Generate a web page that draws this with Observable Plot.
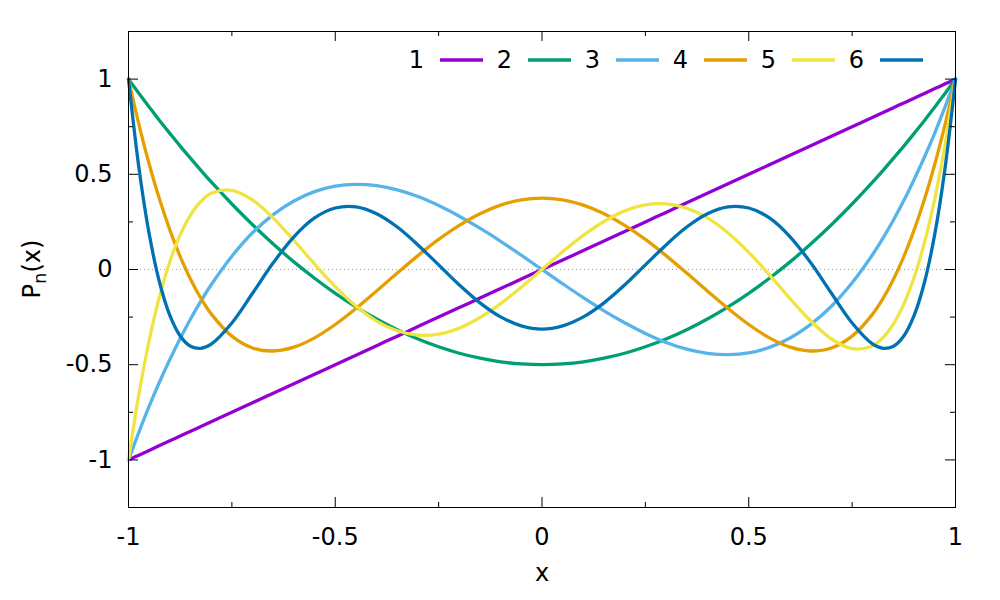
<!DOCTYPE html>
<html>
<head>
<meta charset="utf-8">
<script src="https://cdn.jsdelivr.net/npm/d3@7"></script>
<script src="https://cdn.jsdelivr.net/npm/@observablehq/plot@0.6"></script>
<style>
  html, body { margin: 0; padding: 0; background: #ffffff; }
</style>
</head>
<body>
<div id="chart"></div>
<script>
// ---- data ----
const xs = [-1,-0.975,-0.95,-0.925,-0.9,-0.875,-0.85,-0.825,-0.8,-0.75,-0.7,-0.65,-0.6,-0.55,-0.5,-0.45,-0.4,-0.35,-0.3,-0.25,-0.2,-0.15,-0.1,-0.05,0,0.05,0.1,0.15,0.2,0.25,0.3,0.35,0.4,0.45,0.5,0.55,0.6,0.65,0.7,0.75,0.8,0.825,0.85,0.875,0.9,0.925,0.95,0.975,1];
const P1 = [-1,-0.975,-0.95,-0.925,-0.9,-0.875,-0.85,-0.825,-0.8,-0.75,-0.7,-0.65,-0.6,-0.55,-0.5,-0.45,-0.4,-0.35,-0.3,-0.25,-0.2,-0.15,-0.1,-0.05,0,0.05,0.1,0.15,0.2,0.25,0.3,0.35,0.4,0.45,0.5,0.55,0.6,0.65,0.7,0.75,0.8,0.825,0.85,0.875,0.9,0.925,0.95,0.975,1];
const P2 = [1,0.926,0.854,0.783,0.715,0.648,0.584,0.521,0.46,0.344,0.235,0.134,0.04,-0.046,-0.125,-0.196,-0.26,-0.316,-0.365,-0.406,-0.44,-0.466,-0.485,-0.496,-0.5,-0.496,-0.485,-0.466,-0.44,-0.406,-0.365,-0.316,-0.26,-0.196,-0.125,-0.046,0.04,0.134,0.235,0.344,0.46,0.521,0.584,0.648,0.715,0.783,0.854,0.926,1];
const P3 = [-1,-0.855,-0.718,-0.591,-0.473,-0.362,-0.26,-0.166,-0.08,0.07,0.193,0.288,0.36,0.409,0.438,0.447,0.44,0.418,0.383,0.336,0.28,0.217,0.148,0.075,0,-0.075,-0.148,-0.217,-0.28,-0.336,-0.383,-0.418,-0.44,-0.447,-0.438,-0.409,-0.36,-0.288,-0.193,-0.07,0.08,0.166,0.26,0.362,0.473,0.591,0.718,0.855,1];
const P4 = [1,0.764,0.554,0.369,0.208,0.068,-0.051,-0.151,-0.233,-0.35,-0.412,-0.428,-0.408,-0.359,-0.289,-0.205,-0.113,-0.019,0.073,0.158,0.232,0.293,0.338,0.366,0.375,0.366,0.338,0.293,0.232,0.158,0.073,-0.019,-0.113,-0.205,-0.289,-0.359,-0.408,-0.428,-0.412,-0.35,-0.233,-0.151,-0.051,0.068,0.208,0.369,0.554,0.764,1];
const P5 = [-1,-0.657,-0.373,-0.142,0.041,0.182,0.286,0.357,0.4,0.416,0.365,0.27,0.153,0.028,-0.09,-0.192,-0.271,-0.322,-0.345,-0.34,-0.308,-0.252,-0.179,-0.093,0,0.093,0.179,0.252,0.308,0.34,0.345,0.322,0.271,0.192,0.09,-0.028,-0.153,-0.27,-0.365,-0.416,-0.4,-0.357,-0.286,-0.182,-0.041,0.142,0.373,0.657,1];
const P6 = [1,0.537,0.187,-0.067,-0.241,-0.349,-0.403,-0.414,-0.392,-0.281,-0.125,0.035,0.172,0.271,0.323,0.329,0.293,0.223,0.129,0.024,-0.081,-0.175,-0.249,-0.296,-0.313,-0.296,-0.249,-0.175,-0.081,0.024,0.129,0.223,0.293,0.329,0.323,0.271,0.172,0.035,-0.125,-0.281,-0.392,-0.414,-0.403,-0.349,-0.241,-0.067,0.187,0.537,1];

const seriesNames = ["1", "2", "3", "4", "5", "6"];
const seriesColors = ["#9400d3", "#009e73", "#56b4e9", "#e69f00", "#f0e442", "#0072b2"];
const xMajor = [-1, -0.5, 0, 0.5, 1];
const xMinor = [-0.75, -0.25, 0.25, 0.75];
const yMajor = [-1, -0.5, 0, 0.5, 1];
const yMinor = [-0.75, -0.25, 0.25, 0.75];
const xLabel = "x";
const yLabelParts = ["P", "n", "(x)"];

// ---- table for Plot ----
const allSeries = [P1, P2, P3, P4, P5, P6];
const rows = [];
allSeries.forEach((arr, k) => arr.forEach((v, i) => rows.push({x: xs[i], y: v, n: seriesNames[k]})));

const FONT = "DejaVu Sans";
const FS = 24;
const LW = 3.3;
const W = 1000, H = 600, ML = 128, MR = 45, MT = 31, MB = 93;
const innerW = W - ML - MR, innerH = H - MT - MB;
const major = 10, minor = 5;

function yLabelMark(index, scales, values, dims) {
  const cx = dims.marginLeft - 96;
  const cy = (dims.marginTop + dims.height - dims.marginBottom) / 2;
  const t = d3.create("svg:text")
    .attr("transform", `translate(${cx},${cy}) rotate(-90)`)
    .attr("text-anchor", "middle")
    .attr("dy", "0.35em")
    .attr("font-family", FONT)
    .attr("font-size", FS)
    .attr("fill", "black");
  t.append("tspan").text(yLabelParts[0]);
  t.append("tspan").attr("font-size", FS * 0.75).attr("dy", 6).text(yLabelParts[1]);
  t.append("tspan").attr("dy", -6).text(yLabelParts[2]);
  return t.node();
}

function legendMark(index, scales, values, dims) {
  const g = d3.create("svg:g").attr("font-family", FONT).attr("font-size", FS);
  const right = dims.width - dims.marginRight;
  const y = dims.marginTop + 29;
  seriesNames.forEach((name, i) => {
    const end = right - 32 - (seriesNames.length - 1 - i) * 88;
    g.append("line")
      .attr("x1", end - 43).attr("x2", end)
      .attr("y1", y).attr("y2", y)
      .attr("stroke", seriesColors[i]).attr("stroke-width", LW);
    g.append("text")
      .attr("x", end - 59).attr("y", y).attr("dy", "0.35em")
      .attr("text-anchor", "end").attr("fill", "black")
      .text(name);
  });
  return g.node();
}

const chart = Plot.plot({
  width: W, height: H,
  marginLeft: ML, marginRight: MR, marginTop: MT, marginBottom: MB,
  style: {fontFamily: FONT, fontSize: FS + "px", background: "white", color: "black"},
  x: {domain: [-1, 1]},
  y: {domain: [-1.25, 1.25]},
  color: {domain: seriesNames, range: seriesColors},
  marks: [
    Plot.ruleY([0], {stroke: "#a0a0a0", strokeDasharray: "1,3", strokeWidth: 1}),
    Plot.line(rows, {x: "x", y: "y", z: "n", stroke: "n", strokeWidth: LW, curve: "catmull-rom"}),
    Plot.frame({stroke: "black", strokeWidth: 1}),
    // inward ticks, bottom & top
    Plot.tickX(xMajor, {x: d => d, insetTop: innerH - major, stroke: "black"}),
    Plot.tickX(xMajor, {x: d => d, insetBottom: innerH - major, stroke: "black"}),
    Plot.tickX(xMinor, {x: d => d, insetTop: innerH - minor, stroke: "black"}),
    Plot.tickX(xMinor, {x: d => d, insetBottom: innerH - minor, stroke: "black"}),
    // inward ticks, left & right
    Plot.tickY(yMajor, {y: d => d, insetRight: innerW - major, stroke: "black"}),
    Plot.tickY(yMajor, {y: d => d, insetLeft: innerW - major, stroke: "black"}),
    Plot.tickY(yMinor, {y: d => d, insetRight: innerW - minor, stroke: "black"}),
    Plot.tickY(yMinor, {y: d => d, insetLeft: innerW - minor, stroke: "black"}),
    Plot.axisX({ticks: xMajor, tickSize: 0, tickPadding: 20, tickFormat: d => String(d), label: null}),
    Plot.axisY({ticks: yMajor, tickSize: 0, tickPadding: 16, tickFormat: d => String(d), label: null}),
    Plot.text([xLabel], {frameAnchor: "bottom", dy: 73, text: d => d, fontSize: FS, fill: "black"}),
    yLabelMark,
    legendMark
  ]
});
document.getElementById("chart").appendChild(chart);
</script>
</body>
</html>
